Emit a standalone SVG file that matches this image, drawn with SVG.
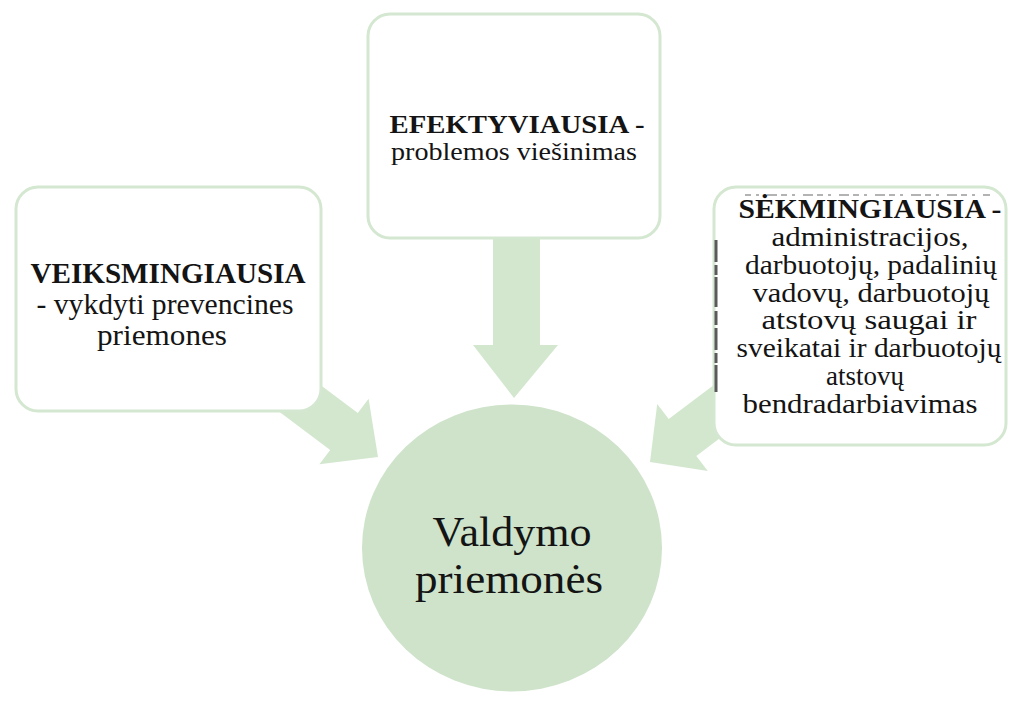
<svg xmlns="http://www.w3.org/2000/svg" width="1012" height="701" viewBox="0 0 1012 701">
<style>
.box{fill:#ffffff;stroke:#d4e7d0;stroke-width:3}
.arrow{fill:#d3e7cf}
.circle{fill:#cee3ca}
.t{font-family:"Liberation Serif","Times New Roman",serif;fill:#141414;text-anchor:middle}
.s30{font-size:29px}
.s27{font-size:26px}
.s26{font-size:26.5px}
.s46{font-size:43px}
.b{font-weight:bold}
</style>
<rect width="1012" height="701" fill="#ffffff"/>
<g id="center">
<ellipse class="circle" cx="512" cy="548" rx="150" ry="143.5"/>
<text class="t s46" x="512" y="546" textLength="159" lengthAdjust="spacingAndGlyphs">Valdymo</text>
<text class="t s46" x="509" y="593" textLength="188" lengthAdjust="spacingAndGlyphs">priemonės</text>
</g>
<g id="connectors">
<polygon class="arrow" points="493,230 540,230 540,345 558,345 514,398 473,345 493,345"/>
<polygon class="arrow" points="253.8,335.1 357.8,413.1 368.6,398.7 378,457 319.4,464.3 330.2,449.9 226.2,371.9"/>
<polygon class="arrow" points="772.4,340.8 668.7,419.1 657.2,404 650,462 707.8,471 696.3,455.9 800,377.6"/>
</g>
<g id="node-left">
<rect class="box" x="16" y="187" width="305" height="224" rx="22"/>
<text class="t s30 b" x="168" y="283" textLength="275" lengthAdjust="spacingAndGlyphs">VEIKSMINGIAUSIA</text>
<text class="t s30" x="165" y="314" textLength="257" lengthAdjust="spacingAndGlyphs">- vykdyti prevencines</text>
<text class="t s30" x="162" y="345" textLength="130" lengthAdjust="spacingAndGlyphs">priemones</text>
</g>
<g id="node-top">
<rect class="box" x="368" y="14" width="292" height="224" rx="22"/>
<text class="t s27 b" x="517" y="133" textLength="255" lengthAdjust="spacingAndGlyphs">EFEKTYVIAUSIA -</text>
<text class="t s27" x="514" y="160" textLength="246" lengthAdjust="spacingAndGlyphs">problemos viešinimas</text>
</g>
<g id="node-right">
<rect class="box" x="714" y="187" width="292" height="258" rx="22"/>
<line x1="716" y1="240" x2="716" y2="392" stroke="#5a5a5a" stroke-width="3" stroke-dasharray="22,3,10,2,30,4,14,3"/>
<line x1="745" y1="195" x2="990" y2="195" stroke="#9a9a9a" stroke-width="1.5" stroke-dasharray="6,5,3,8,10,4"/>
<text class="t s26 b" x="870" y="218" textLength="263" lengthAdjust="spacingAndGlyphs">SĖKMINGIAUSIA -</text>
<text class="t s26" x="870" y="246" textLength="197" lengthAdjust="spacingAndGlyphs">administracijos,</text>
<text class="t s26" x="871" y="274" textLength="252" lengthAdjust="spacingAndGlyphs">darbuotojų, padalinių</text>
<text class="t s26" x="871" y="302" textLength="237" lengthAdjust="spacingAndGlyphs">vadovų, darbuotojų</text>
<text class="t s26" x="869" y="329" textLength="215" lengthAdjust="spacingAndGlyphs">atstovų saugai ir</text>
<text class="t s26" x="869" y="357" textLength="265" lengthAdjust="spacingAndGlyphs">sveikatai ir darbuotojų</text>
<text class="t s26" x="865" y="385" textLength="78" lengthAdjust="spacingAndGlyphs">atstovų</text>
<text class="t s26" x="860" y="413" textLength="235" lengthAdjust="spacingAndGlyphs">bendradarbiavimas</text>
</g>
</svg>
